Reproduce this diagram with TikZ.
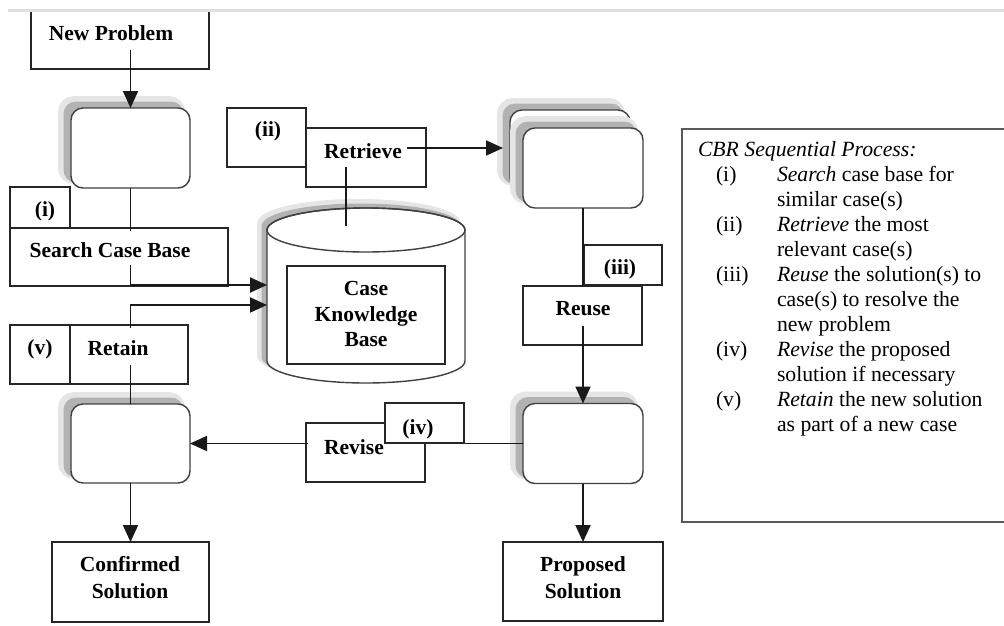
\documentclass[tikz,border=0pt]{standalone}
\usepackage{fontspec}
\setmainfont{Liberation Serif}
\usetikzlibrary{arrows.meta}

\begin{document}
\begin{tikzpicture}[x=1pt,y=-1pt,
  every node/.style={inner sep=0pt, outer sep=0pt},
  lbl/.style={font=\fontsize{21.5}{26}\selectfont\bfseries},
  lbltwo/.style={font=\fontsize{21.5}{26}\selectfont\bfseries, align=center},
  ptxt/.style={font=\fontsize{21.7}{25}\selectfont, anchor=base west},
  frame/.style 2 args={draw=black!85, line width=1.6pt, minimum width=#1pt, minimum height=#2pt},
  rbox/.style 2 args={rounded corners=12pt, draw=black!75, line width=1.4pt, fill=white,
    minimum width=#1pt, minimum height=#2pt,
    preaction={draw=gray!20, fill=gray!20, line width=8pt, transform canvas={shift={(-9pt,8pt)}}},
    preaction={draw=gray!60, fill=gray!60, line width=1pt, transform canvas={shift={(-7pt,6pt)}}}},
  cylshadow/.style={
    preaction={draw=gray!20, fill=gray!20, line width=6pt, transform canvas={shift={(-7pt,6pt)}}},
    preaction={draw=gray!60, fill=gray!60, line width=1pt, transform canvas={shift={(-5pt,4pt)}}}},
  conn/.style={draw=black!90, line width=1.9pt},
  arr/.style={conn, -{Triangle[length=17pt,width=15pt]}}
]
\useasboundingbox (0,0) rectangle (1004,625);
\clip (0,0) rectangle (1004,625);
\fill[white] (0,0) rectangle (1004,625);

% summary panel on the right
\node[draw=black!65, line width=2.2pt, minimum width=330pt, minimum height=393pt] (panel) at (847,325.5) {};

% starting problem
\node[frame={178}{59}] (np) at (120,39.5) {};
\draw[gray!25, line width=2.5pt] (8,10.5) -- (1004,10.5);

% rounded process boxes with drop shadows
\node[rbox={119}{80}] (b1) at (130.5,148) {};
\node[rbox={119}{79}] (b4) at (130.5,443.5) {};
\node[rbox={120}{80}] (b3) at (583,443.5) {};
\node[rbox={120}{80}] (stackback) at (570,150) {};
\node[rbox={120}{80}] (stackfront) at (583,168) {};

% case base cylinder
\path[cylshadow, draw=black!75, line width=1.4pt, fill=white]
  (267,230) -- (267,361) arc[start angle=180, end angle=360, x radius=99pt, y radius=22pt]
  -- (465,230) arc[start angle=0, end angle=180, x radius=99pt, y radius=22pt] -- cycle;
\draw[black!75, line width=1.4pt] (366,230) ellipse [x radius=99pt, y radius=22pt];
\coordinate (kbin1) at (267,285);
\coordinate (kbin2) at (267,305);
\coordinate (kbtop) at (346,226);

% step frames
\node[frame={158}{98}] (ckb) at (366,315) {};
\node[frame={60}{41}] (ibox) at (40,207.5) {};
\node[frame={218}{58}] (search) at (119,257) {};
\node[frame={60}{59}] (vbox) at (40,354.5) {};
\node[frame={118}{59}] (retain) at (129,354.5) {};
\node[frame={79}{59}] (iibox) at (266.5,137.5) {};
\node[frame={120}{59}] (retrieve) at (366,157.5) {};
\node[frame={78}{40}] (iiibox) at (623,265) {};
\node[frame={119}{59}] (reuse) at (582.5,315.5) {};
\node[frame={119}{59}] (revise) at (365.5,452.5) {};
\node[frame={160}{79}] (proposed) at (583,581.5) {};
\node[frame={157}{80}] (confirmed) at (130.5,582) {};

% connectors
\coordinate (npout) at (130.5,50);
\coordinate (retout) at (346,167);
\coordinate (retarr) at (407,148);
\coordinate (stackin) at (503,148);
\coordinate (reuseout) at (583,326);
\draw[arr] (npout) -- (b1.north);
\draw[arr] (b1.south) |- (kbin1);
\draw[arr] (b4.north) |- (kbin2);
\draw[conn] (retout) -- (kbtop);
\draw[arr] (retarr) -- (stackin);
\draw[conn] (stackfront.south) -- (stackfront.south |- reuse.north);
\draw[arr] (reuseout) -- (b3.north);
\draw[arr] (b3.west) -- (b4.east);
\draw[arr] (b3.south) -- (proposed.north);
\draw[arr] (b4.south) -- (confirmed.north);

% labels set on white, over the connectors
\node[lbl, fill=white, anchor=base, text height=26pt, text depth=8pt] (searcht) at (110,257) {Search Case Base};
\node[lbl, fill=white, anchor=base, text height=27pt, text depth=10pt] (retaint) at (118,355) {Retain};
\node[lbl, fill=white, anchor=base, minimum width=92pt, text height=18pt, text depth=6pt] (reviset) at (354,454) {Revise};
\node[frame={79}{40}, fill=white] (ivbox) at (424.5,423) {};

% remaining labels
\node[lbl, anchor=base] (npt) at (111,40) {New Problem};
\node[lbl, anchor=base] (it) at (45,216) {(i)};
\node[lbl, anchor=base] (vt) at (40,354) {(v)};
\node[lbl, anchor=base] (iit) at (268,136) {(ii)};
\node[lbl, anchor=base] (retrievet) at (363,158) {Retrieve};
\node[lbl, anchor=base] (iiit) at (620,274) {(iii)};
\node[lbl, anchor=base] (reuset) at (583,315) {Reuse};
\node[lbl, anchor=base] (ivt) at (418,434) {(iv)};
\node[lbltwo, font=\fontsize{21.5}{25.5}\selectfont\bfseries] (ckbt) at (366,314) {Case\\Knowledge\\Base};
\node[lbltwo, font=\fontsize{21.5}{27}\selectfont\bfseries] (proposedt) at (583,578) {Proposed\\Solution};
\node[lbltwo, font=\fontsize{21.5}{27}\selectfont\bfseries] (confirmedt) at (130,578) {Confirmed\\Solution};

% process summary text
\node[ptxt] (p0) at (698,156) {\textit{CBR Sequential Process:}};
\node[ptxt] (l1) at (716,181) {(i)};
\node[ptxt] (p1) at (777,181) {\textit{Search} case base for};
\node[ptxt] (p2) at (777,206) {similar case(s)};
\node[ptxt] (l2) at (716,231) {(ii)};
\node[ptxt] (p3) at (777,231) {\textit{Retrieve} the most};
\node[ptxt] (p4) at (777,256) {relevant case(s)};
\node[ptxt] (l3) at (716,281) {(iii)};
\node[ptxt] (p5) at (777,281) {\textit{Reuse} the solution(s) to};
\node[ptxt] (p6) at (777,306) {case(s) to resolve the};
\node[ptxt] (p7) at (777,331) {new problem};
\node[ptxt] (l4) at (716,356) {(iv)};
\node[ptxt] (p8) at (777,356) {\textit{Revise} the proposed};
\node[ptxt] (p9) at (777,381) {solution if necessary};
\node[ptxt] (l5) at (716,406) {(v)};
\node[ptxt] (p10) at (777,406) {\textit{Retain} the new solution};
\node[ptxt] (p11) at (777,431) {as part of a new case};
\end{tikzpicture}
\end{document}
